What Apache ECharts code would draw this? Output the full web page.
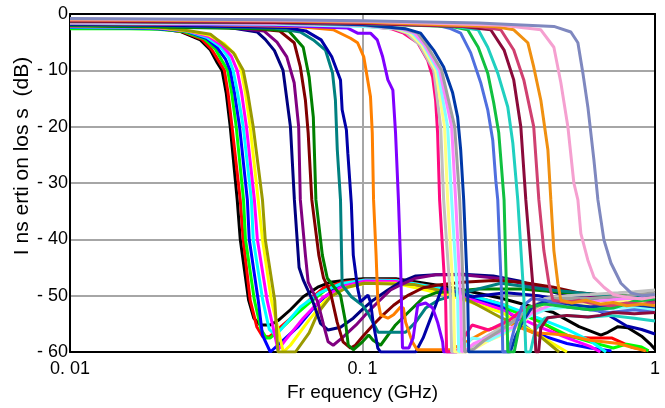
<!DOCTYPE html>
<html>
<head>
<meta charset="utf-8">
<script src="https://cdn.jsdelivr.net/npm/echarts@6/dist/echarts.min.js"></script>
<style>
  html, body { margin: 0; padding: 0; background: #ffffff; }
  #chart { width: 665px; height: 408px; }
</style>
</head>
<body>
<div id="chart"></div>
<script>
// Insertion loss of a bank of low-pass filters, frequency in GHz, loss in dB.
const xTickLabels = ['0. 01', '0. 1', '1'];
const xTitle = 'Fr equency (GHz)';
const yTitle = 'I ns erti on los s  (dB)';

// 40 MHz group
const lp01 = [[0.01,-2.2],[0.016,-2.3],[0.02,-2.5],[0.0238,-3.1],[0.0279,-4.6],[0.0302,-6.4],[0.0319,-8.7],[0.0331,-10],[0.0342,-14],[0.0353,-20],[0.0373,-33],[0.0382,-40],[0.0408,-50.8],[0.0425,-54],[0.0447,-55.2],[0.0484,-55.2],[0.0518,-54.3],[0.0567,-52.5],[0.0627,-50.2],[0.0703,-48.5],[0.0777,-47.6],[0.0887,-47.2],[0.101,-47.0],[0.13,-47],[0.2,-48.5],[0.3,-50.5],[0.45,-53],[0.55,-55.5],[0.653,-57],[0.69,-56.5],[0.747,-55.5],[0.808,-55.7],[0.9,-57.2],[0.96,-58.5],[1.0,-59.5]];
const lp02 = [[0.01,-2.3],[0.016,-2.4],[0.02,-2.6],[0.0241,-3.1],[0.0283,-4.5],[0.0305,-6.3],[0.0324,-8.5],[0.0337,-10],[0.0347,-14],[0.0358,-20],[0.0382,-33],[0.0391,-40],[0.0413,-50.8],[0.0435,-55.5],[0.0456,-57.3],[0.048,-57.3],[0.0524,-55.6],[0.0596,-53.1],[0.0657,-50.8],[0.0736,-48.6],[0.0858,-47.6],[0.101,-47.2],[0.13,-47.2],[0.2,-49],[0.3,-51.5],[0.4,-54.5],[0.5,-57.3],[0.6,-57.5],[0.71,-57.5],[0.83,-59.1],[0.95,-59.8]];
const lp03 = [[0.01,-2.6],[0.016,-2.6],[0.02,-2.7],[0.0245,-3.1],[0.0288,-4.4],[0.0314,-6.2],[0.0331,-8.3],[0.0346,-10],[0.0357,-14],[0.037,-20],[0.0392,-33],[0.0398,-40],[0.0427,-50.8],[0.045,-56],[0.0469,-57.5],[0.0484,-57.5],[0.0531,-55.7],[0.059,-53.4],[0.0664,-51.1],[0.0747,-49],[0.0875,-47.8],[0.101,-47.4],[0.13,-47.4],[0.2,-49.5],[0.3,-52],[0.4,-54.5],[0.5,-57],[0.6,-58.2],[0.72,-59.3],[0.8,-58.6],[0.9,-59.1],[0.95,-59.8]];
const lp04 = [[0.01,-2.4],[0.016,-2.5],[0.02,-2.6],[0.0248,-3.0],[0.0292,-4.3],[0.0319,-6.0],[0.034,-8.0],[0.0353,-10],[0.0365,-14],[0.038,-20],[0.0404,-33],[0.041,-40],[0.044,-50.8],[0.0455,-57],[0.0484,-60],[0.0536,-57.9],[0.06,-55.6],[0.0703,-51.3],[0.0794,-49],[0.091,-47.8],[0.1024,-47.4],[0.13,-47.5],[0.2,-49],[0.3,-52],[0.385,-56.6],[0.5,-58.5],[0.6,-59.3],[0.71,-59.8]];
const lp05 = [[0.01,-2.3],[0.016,-2.4],[0.02,-2.5],[0.025,-3.0],[0.0295,-4.2],[0.0327,-5.8],[0.0349,-7.8],[0.0361,-10],[0.0374,-14],[0.0391,-20],[0.0417,-33],[0.0423,-40],[0.0456,-50.8],[0.048,-56],[0.0505,-57],[0.0524,-56.1],[0.0613,-52],[0.0718,-49.4],[0.0841,-47.9],[0.1024,-47.2],[0.13,-47.3],[0.2,-49],[0.3,-51.5],[0.4,-54],[0.5,-56],[0.6,-58],[0.68,-60]];
const lp06 = [[0.01,-2.2],[0.016,-2.3],[0.02,-2.5],[0.0252,-3.0],[0.0298,-4.0],[0.0331,-5.6],[0.0356,-7.5],[0.0373,-10],[0.0386,-14],[0.0401,-20],[0.0427,-33],[0.0437,-40],[0.0472,-50.8],[0.0514,-59.6],[0.0545,-57.9],[0.0627,-54],[0.0729,-50.4],[0.0858,-48.3],[0.1024,-47.4],[0.13,-47.5],[0.2,-49.5],[0.3,-52.5],[0.4,-55.5],[0.5,-57.5],[0.6,-59],[0.65,-60]];
const lp07 = [[0.01,-2.1],[0.016,-2.2],[0.02,-2.4],[0.0254,-3.0],[0.03,-3.8],[0.0337,-5.3],[0.0367,-7.2],[0.0385,-10],[0.0398,-14],[0.0413,-20],[0.044,-33],[0.0455,-40],[0.0488,-50.8],[0.0536,-60],[0.0567,-58.8],[0.0657,-54.3],[0.0747,-50.8],[0.0875,-48.6],[0.1024,-47.8],[0.13,-47.8],[0.2,-50],[0.3,-53],[0.4,-57],[0.5,-60]];
const lp08 = [[0.01,-2.0],[0.016,-2.1],[0.02,-2.3],[0.0258,-3.0],[0.0302,-3.6],[0.0327,-5.0],[0.0362,-6.9],[0.0391,-10],[0.0405,-14],[0.0423,-20],[0.0455,-33],[0.0465,-40],[0.0501,-50.8],[0.0514,-60],[0.059,-60],[0.0657,-56.6],[0.0703,-53.1],[0.0777,-50.2],[0.0887,-48.5],[0.101,-47.8],[0.15,-48],[0.2,-49.5],[0.234,-51],[0.3,-54],[0.4,-57],[0.47,-60]];

// 60-90 MHz group
const lp09 = [[0.01,-1.8],[0.02,-2.0],[0.035,-2.4],[0.0437,-3.2],[0.0465,-4.5],[0.05,-6.5],[0.0535,-10],[0.0567,-20],[0.0585,-33],[0.0607,-45],[0.0627,-47.2],[0.0674,-50.8],[0.0718,-54.9],[0.0763,-56.1],[0.0841,-55.6],[0.093,-54],[0.101,-52.2],[0.1087,-50.8],[0.1221,-49],[0.1349,-47.6],[0.152,-46.5],[0.178,-46.3],[0.22,-46.2],[0.28,-46.5],[0.35,-47.5],[0.42,-49],[0.5,-50],[0.6,-50.5],[0.7,-51],[0.85,-51.5],[1.0,-51.5]];
const lp10 = [[0.01,-1.9],[0.02,-2.1],[0.035,-2.4],[0.046,-3.0],[0.051,-5.0],[0.0551,-7.6],[0.0584,-12.2],[0.0605,-20],[0.0613,-33],[0.0638,-42.8],[0.0652,-47.6],[0.0703,-51.1],[0.0736,-55.2],[0.0763,-58.2],[0.0794,-58.8],[0.0852,-57.5],[0.0951,-55.2],[0.1044,-52.9],[0.1131,-51.1],[0.1247,-49],[0.1349,-48.1],[0.152,-46.9],[0.178,-46.3],[0.22,-46.3],[0.3,-47],[0.4,-48.5],[0.5,-49.5],[0.6,-50],[0.75,-50.5],[1.0,-51]];
const lp11 = [[0.01,-2.0],[0.02,-2.2],[0.04,-2.5],[0.052,-3.0],[0.0584,-5.1],[0.0613,-9.4],[0.0638,-15.3],[0.0652,-21.1],[0.0671,-33],[0.0709,-42.8],[0.0736,-46.9],[0.0777,-49.4],[0.0819,-54.7],[0.0858,-58.2],[0.091,-59.3],[0.0946,-58.8],[0.1,-57.3],[0.1087,-55.2],[0.1176,-53.4],[0.1277,-51.7],[0.1349,-50.8],[0.1437,-49.9],[0.1612,-48.6],[0.1814,-48.1],[0.22,-47.6],[0.28,-47.3],[0.35,-47.6],[0.45,-48.5],[0.55,-49.5],[0.7,-50],[1.0,-50.5]];
const lp12 = [[0.01,-2.1],[0.02,-2.3],[0.045,-2.6],[0.056,-3.0],[0.0627,-5.9],[0.0657,-11.2],[0.0679,-18.3],[0.0693,-33],[0.0729,-42.8],[0.0758,-46.9],[0.0841,-49.9],[0.0875,-54.7],[0.0894,-58.8],[0.093,-59.6],[0.1,-58.2],[0.105,-57],[0.1087,-57.9],[0.1153,-58.8],[0.1297,-55.2],[0.1437,-52.9],[0.1612,-50.4],[0.1778,-49.5],[0.25,-48.8],[0.35,-48.8],[0.5,-49.5],[0.7,-50],[1.0,-50]];
const lp13 = [[0.01,-1.9],[0.02,-2.1],[0.05,-2.5],[0.0613,-3.2],[0.0679,-4.6],[0.0747,-6.4],[0.079,-10.5],[0.0808,-15.3],[0.082,-24.1],[0.0841,-33],[0.0848,-42.8],[0.0852,-48.1],[0.0916,-50.2],[0.1,-51.7],[0.1044,-53.1],[0.1131,-56.5],[0.1404,-56.5],[0.152,-54.7],[0.1644,-52.2],[0.1814,-50.8],[0.22,-49.5],[0.297,-47.8],[0.44,-49],[0.55,-49.5],[0.7,-50],[1.0,-50.5]];
const lp14 = [[0.01,-1.8],[0.02,-2.0],[0.055,-2.4],[0.064,-3.0],[0.0722,-4.6],[0.0785,-7.6],[0.0841,-11.7],[0.0852,-17],[0.0881,-20.6],[0.0891,-24.7],[0.0916,-33.7],[0.093,-42.8],[0.0962,-48.6],[0.0984,-51.1],[0.1044,-49.9],[0.1065,-51.1],[0.1087,-54.7],[0.1128,-59.3],[0.1153,-60],[0.152,-60],[0.1612,-57.5],[0.169,-54.7],[0.1778,-51.7],[0.187,-48.6],[0.237,-50.2],[0.309,-49.5],[0.4,-50],[0.5,-51],[0.6,-52],[0.69,-53.4],[0.8,-55.4],[0.9,-56],[1.0,-56.8]];

// 110 and 130 MHz
const lp15 = [[0.01,-1.7],[0.03,-1.9],[0.06,-2.2],[0.0794,-2.8],[0.091,-4.3],[0.0962,-5.1],[0.101,-7.6],[0.1065,-14.7],[0.108,-21.1],[0.1091,-33],[0.1113,-42.8],[0.1128,-50.8],[0.1153,-53.4],[0.1221,-54],[0.1277,-53.4],[0.1349,-52],[0.138,-52.2],[0.1404,-54.7],[0.148,-58.2],[0.1538,-59.6],[0.2,-59.6],[0.23,-58],[0.27,-56],[0.32,-55],[0.385,-56.6],[0.5,-57],[0.6,-57.9],[0.75,-58.5],[0.85,-59.3],[0.93,-59.8]];
const lp16 = [[0.01,-1.6],[0.05,-2.0],[0.089,-2.5],[0.0962,-3.4],[0.1065,-3.4],[0.1123,-4.6],[0.1172,-7.6],[0.1221,-11.7],[0.127,-13.5],[0.1297,-21.1],[0.1327,-33],[0.1349,-43.7],[0.137,-59.3],[0.144,-59.3],[0.149,-57.5],[0.1544,-51.7],[0.1644,-51.3],[0.1737,-52.2],[0.1806,-54.7],[0.1879,-58.2],[0.1894,-60],[0.21,-60]];

// 200 MHz group
const lp17 = [[0.01,-1.5],[0.05,-1.7],[0.1,-2.1],[0.125,-2.6],[0.1382,-3.4],[0.1544,-5.1],[0.167,-8.2],[0.1737,-11.2],[0.1778,-15.3],[0.1806,-21.1],[0.1835,-33],[0.188,-42],[0.1924,-50.8],[0.1939,-60],[0.21,-60],[0.225,-57],[0.237,-55.2],[0.27,-56.1],[0.319,-54.3],[0.358,-52.2],[0.42,-51.5],[0.5,-51],[0.6,-51.5],[0.7,-52],[0.85,-51.5],[1.0,-52]];
const lp18 = [[0.01,-1.4],[0.05,-1.6],[0.1,-2.0],[0.128,-2.6],[0.1415,-3.4],[0.1568,-5.5],[0.1753,-10],[0.185,-20],[0.1894,-33],[0.2001,-50.8],[0.2017,-60],[0.225,-60],[0.237,-59],[0.26,-57.5],[0.29,-56],[0.32,-55],[0.37,-52.5],[0.42,-50.5],[0.5,-50],[0.6,-49.8],[0.75,-49.5],[0.85,-49.3],[1.0,-49]];
const lp19 = [[0.01,-1.5],[0.05,-1.7],[0.1,-2.1],[0.13,-2.6],[0.1448,-3.4],[0.1593,-5.5],[0.1778,-10],[0.1908,-20],[0.1955,-33],[0.2049,-50.8],[0.2066,-60],[0.225,-60],[0.24,-59.5],[0.27,-58],[0.3,-57],[0.35,-55],[0.4,-52],[0.45,-51],[0.6,-51.5],[0.8,-51],[1.0,-51.5]];
const lp20 = [[0.01,-1.6],[0.05,-1.8],[0.1,-2.2],[0.133,-2.6],[0.1483,-3.4],[0.1618,-5.5],[0.1806,-10],[0.1955,-20],[0.2017,-33],[0.2115,-50.8],[0.2132,-60],[0.225,-59],[0.237,-57.5],[0.27,-58],[0.32,-56],[0.36,-54],[0.42,-52.5],[0.5,-52],[0.6,-52.5],[0.8,-52],[1.0,-52.5]];
const lp21 = [[0.01,-1.5],[0.05,-1.7],[0.1,-2.0],[0.135,-2.6],[0.1506,-3.4],[0.1631,-5.5],[0.1835,-10],[0.2017,-20],[0.2082,-33],[0.2166,-50.8],[0.2183,-60],[0.228,-59.5],[0.24,-58.5],[0.28,-57],[0.33,-55.5],[0.38,-53],[0.45,-51.5],[0.6,-51],[0.8,-50.5],[1.0,-50.5]];
const lp22 = [[0.01,-1.4],[0.05,-1.6],[0.1,-2.0],[0.138,-2.6],[0.1544,-3.4],[0.1657,-5.5],[0.1864,-10],[0.2066,-20],[0.2149,-33],[0.2218,-50.8],[0.2235,-60],[0.24,-59.5],[0.26,-58],[0.3,-56],[0.36,-53],[0.45,-50.5],[0.6,-50.5],[0.8,-50],[1.0,-49.5]];
const lp23 = [[0.01,-1.3],[0.05,-1.5],[0.1,-1.9],[0.14,-2.6],[0.158,-3.4],[0.175,-6.4],[0.1894,-9.4],[0.2033,-14],[0.2115,-18.3],[0.2166,-24.1],[0.2218,-33],[0.2289,-50],[0.2307,-60],[0.32,-60],[0.335,-57],[0.35,-55],[0.38,-52],[0.42,-51],[0.5,-51.5],[0.6,-52],[0.8,-51.5],[1.0,-52]];

// 300-600 MHz group
const lp24 = [[0.01,-1.2],[0.05,-1.4],[0.1,-1.6],[0.18,-2.0],[0.2,-2.6],[0.2166,-3.4],[0.2344,-6.9],[0.2536,-12.2],[0.268,-17],[0.2788,-22.4],[0.2855,-29.5],[0.29,-33],[0.299,-50],[0.3017,-60],[0.315,-60],[0.33,-56],[0.35,-52],[0.38,-50.5],[0.42,-50.8],[0.5,-52],[0.6,-52.5],[0.7,-53],[0.85,-52.5],[1.0,-53]];
const lp25 = [[0.01,-1.3],[0.05,-1.5],[0.1,-1.7],[0.2,-2.2],[0.2289,-2.8],[0.2486,-5.9],[0.268,-10.5],[0.281,-15.8],[0.2923,-21.1],[0.3048,-33],[0.311,-50],[0.3138,-60],[0.33,-60],[0.345,-55],[0.37,-52],[0.42,-51.5],[0.5,-52],[0.6,-52.5],[0.72,-52.2],[0.85,-51],[1.0,-50.6]];
const lp26 = [[0.01,-1.2],[0.05,-1.4],[0.1,-1.7],[0.2,-2.1],[0.2486,-2.8],[0.268,-5.9],[0.29,-10.5],[0.3138,-16.5],[0.3265,-22.9],[0.3395,-33],[0.356,-50],[0.3617,-60],[0.375,-60],[0.39,-56],[0.42,-54],[0.5,-53.5],[0.6,-53.8],[0.7,-53.5],[0.85,-54],[1.0,-54.5]];
const lp27 = [[0.01,-1.3],[0.05,-1.5],[0.1,-1.7],[0.22,-2.2],[0.2744,-2.8],[0.3048,-6.4],[0.3289,-11.7],[0.3477,-20],[0.3617,-33],[0.3849,-50],[0.3913,-60],[0.4,-60],[0.407,-55.7],[0.43,-53.9],[0.5,-53.5],[0.59,-53.8],[0.65,-53.5],[0.72,-53],[0.85,-53.2],[1.0,-53]];
const lp28 = [[0.01,-1.1],[0.05,-1.3],[0.1,-1.5],[0.25,-2.2],[0.297,-2.8],[0.3289,-6.4],[0.356,-11.7],[0.3849,-20],[0.4008,-33],[0.4169,-42],[0.4337,-47.8],[0.4476,-50.8],[0.5,-51.2],[0.55,-50.8],[0.6,-51.3],[0.7,-51.8],[0.8,-51.3],[0.9,-51.5],[1.0,-51.2]];
const lp29 = [[0.01,-1.0],[0.05,-1.2],[0.1,-1.4],[0.28,-2.2],[0.3289,-2.8],[0.3674,-5.1],[0.3849,-9.4],[0.4071,-15.3],[0.4303,-24.1],[0.4405,-33],[0.4511,-42],[0.4655,-47.8],[0.4766,-50.8],[0.52,-51.3],[0.58,-50.8],[0.65,-51.5],[0.72,-51.2],[0.8,-51.8],[0.9,-51.5],[1.0,-51.8]];
const lp30 = [[0.01,-0.9],[0.05,-1.1],[0.1,-1.3],[0.3,-2.0],[0.4071,-2.8],[0.4511,-5.9],[0.4766,-12.2],[0.5036,-20],[0.528,-30],[0.545,-33],[0.558,-39],[0.5895,-43.7],[0.6182,-46.7],[0.6689,-48.5],[0.72,-49.8],[0.8,-50.3],[0.9,-50.6],[1.0,-50.2]];
const lp31 = [[0.01,-0.8],[0.05,-1.0],[0.1,-1.2],[0.25,-1.6],[0.4511,-2.2],[0.5157,-3.2],[0.545,-5.1],[0.5669,-10.5],[0.5895,-16.5],[0.6182,-25.9],[0.638,-33],[0.6689,-40.1],[0.7069,-44.2],[0.7649,-47.8],[0.8276,-49.5],[0.9,-50],[1.0,-49.8]];

const curves = [lp01, lp02, lp03, lp04, lp05, lp06, lp07, lp08,
                lp09, lp10, lp11, lp12, lp13, lp14, lp15, lp16,
                lp17, lp18, lp19, lp20, lp21, lp22, lp23,
                lp24, lp25, lp26, lp27, lp28, lp29, lp30, lp31];

const palette = ['#000000', '#ff0000', '#00ff00', '#0000ff', '#00ffff', '#ff00ff', '#ffff00', '#9a9a00',
                 '#000080', '#800080', '#800000', '#008000', '#008080', '#0000a8', '#ff8000', '#8000ff',
                 '#ff0a80', '#c0c0c0', '#ffff80', '#80ffff', '#ff80ff', '#a0a0a0', '#0038a8',
                 '#4f6fdf', '#10c040', '#20d0c0', '#8b0a3a', '#d04070', '#f09010', '#f5a0d0', '#7f88bf'];

const font = 'Liberation Sans, Arial, sans-serif';

function xLabel(v) {
  const e = Math.round(Math.log10(v)) + 2;
  return xTickLabels[e] || '';
}
function yLabel(v) {
  return v === 0 ? '0' : '- ' + Math.abs(v);
}

const chart = echarts.init(document.getElementById('chart'), null, { renderer: 'canvas' });

chart.setOption({
  animation: false,
  backgroundColor: '#ffffff',
  grid: { left: 70, right: 10, top: 14, bottom: 56, containLabel: false },
  xAxis: [{
    type: 'log', logBase: 10, min: 0.01, max: 1,
    name: xTitle, nameLocation: 'middle', nameGap: 31,
    nameTextStyle: { fontFamily: font, fontSize: 19, color: '#000' },
    axisLine: { show: true, onZero: false, lineStyle: { color: '#000', width: 2 } },
    axisTick: { show: false },
    minorTick: { show: false },
    axisLabel: { formatter: xLabel, fontFamily: font, fontSize: 18, color: '#000', margin: 8 },
    splitLine: { show: true, lineStyle: { color: '#a6a6a6', width: 2 } }
  }, {
    type: 'log', logBase: 10, min: 0.01, max: 1, position: 'top',
    axisLine: { show: true, onZero: false, lineStyle: { color: '#000', width: 2 } },
    axisTick: { show: false }, axisLabel: { show: false }, splitLine: { show: false }
  }],
  yAxis: [{
    type: 'value', min: -60, max: 0, interval: 10,
    axisLine: { show: true, onZero: false, lineStyle: { color: '#000', width: 2 } },
    axisTick: { show: false },
    axisLabel: { formatter: yLabel, fontFamily: font, fontSize: 18, color: '#000', margin: 2 },
    splitLine: { show: true, lineStyle: { color: '#a6a6a6', width: 2 } }
  }, {
    type: 'value', min: -60, max: 0, interval: 10, position: 'right',
    axisLine: { show: true, onZero: false, lineStyle: { color: '#000', width: 2 } },
    axisTick: { show: false }, axisLabel: { show: false }, splitLine: { show: false }
  }],
  graphic: [{
    type: 'text', x: 22, y: 156, rotation: Math.PI / 2,
    style: { text: yTitle, font: '21px ' + font, fill: '#000', align: 'center', verticalAlign: 'middle' }
  }],
  series: curves.map((d, i) => ({
    type: 'line', xAxisIndex: 0, yAxisIndex: 0, data: d,
    showSymbol: false, symbol: 'none', silent: true, smooth: false,
    lineStyle: { color: palette[i], width: 3 },
    z: 2
  }))
});
</script>
</body>
</html>
